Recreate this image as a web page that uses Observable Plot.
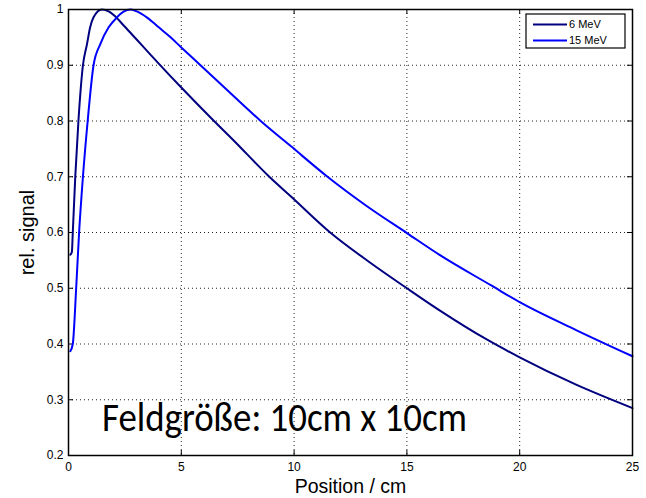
<!DOCTYPE html>
<html>
<head>
<meta charset="utf-8">
<script src="https://cdn.jsdelivr.net/npm/d3@7"></script>
<script src="https://cdn.jsdelivr.net/npm/@observablehq/plot@0.6"></script>
<style>
  html, body { margin: 0; padding: 0; background: #fff; }
</style>
</head>
<body>
<div id="chart"></div>
<script>
// ---- data ----
const seriesNames = ["6 MeV", "15 MeV"];
const seriesColors = ["#000080", "#0000ff"];

const position6 = [0.08, 0.15, 0.19, 0.30, 0.44, 0.64, 0.82, 0.96, 1.11, 1.48, 1.8, 2.0, 2.5, 3.0, 3.5, 4.0, 5.0, 6.45, 7.3, 8.9, 9.85, 11.6, 13.3, 15.0, 16.5, 18.5, 20.0, 22.5, 25.0];
const signal6   = [0.560, 0.565, 0.600, 0.700, 0.800, 0.900, 0.938, 0.968, 0.986, 1.000, 0.996, 0.990, 0.969, 0.947, 0.925, 0.903, 0.860, 0.800, 0.766, 0.700, 0.665, 0.600, 0.548, 0.500, 0.459, 0.409, 0.376, 0.327, 0.285];

const position15 = [0.08, 0.19, 0.34, 0.47, 0.64, 0.85, 1.11, 1.41, 1.78, 2.15, 2.44, 2.74, 3.0, 3.5, 4.0, 4.5, 5.0, 5.85, 7.6, 8.52, 9.85, 11.48, 13.2, 15.0, 16.52, 18.74, 20.0, 22.5, 25.0];
const signal15   = [0.387, 0.400, 0.500, 0.600, 0.700, 0.800, 0.900, 0.938, 0.968, 0.986, 0.996, 1.000, 0.997, 0.985, 0.968, 0.951, 0.932, 0.900, 0.834, 0.800, 0.755, 0.700, 0.648, 0.599, 0.558, 0.505, 0.475, 0.425, 0.378];

const xTicks = [0, 5, 10, 15, 20, 25];
const xTickLabels = ["0", "5", "10", "15", "20", "25"];
const yTicks = [0.2, 0.3, 0.4, 0.5, 0.6, 0.7, 0.8, 0.9, 1];
const yTickLabels = ["0.2", "0.3", "0.4", "0.5", "0.6", "0.7", "0.8", "0.9", "1"];

const xLabel = "Position / cm";
const yLabel = "rel. signal";
const annotation = ["Feldgröße: 10cm x 10cm"];

// ---- build table ----
const rows = [];
position6.forEach((p, i) => rows.push({series: seriesNames[0], x: p, y: signal6[i]}));
position15.forEach((p, i) => rows.push({series: seriesNames[1], x: p, y: signal15[i]}));

const W = 646, H = 498;
const mL = 68, mR = 14, mT = 9, mB = 43;
const innerW = W - mL - mR, innerH = H - mT - mB;
const tickLen = 5;

const gridX = xTicks.slice(1, -1);
const gridY = yTicks.slice(1, -1);

const chart = Plot.plot({
  width: W,
  height: H,
  marginLeft: mL,
  marginRight: mR,
  marginTop: mT,
  marginBottom: mB,
  style: {fontFamily: "'Liberation Sans', Arial, sans-serif", fontSize: "12px", background: "white", color: "black"},
  x: {domain: [0, 25]},
  y: {domain: [0.2, 1]},
  color: {domain: seriesNames, range: seriesColors},
  marks: [
    // dotted grid
    Plot.ruleX(gridX, {x: d => d, stroke: "black", strokeWidth: 1, strokeDasharray: "1,3", strokeOpacity: 0.85}),
    Plot.ruleY(gridY, {y: d => d, stroke: "black", strokeWidth: 1, strokeDasharray: "1,3", strokeOpacity: 0.85}),
    // inward tick marks on all sides
    Plot.tickX(xTicks, {x: d => d, insetTop: innerH - tickLen, stroke: "black", strokeWidth: 1}),
    Plot.tickX(xTicks, {x: d => d, insetBottom: innerH - tickLen, stroke: "black", strokeWidth: 1}),
    Plot.tickY(yTicks, {y: d => d, insetRight: innerW - tickLen, stroke: "black", strokeWidth: 1}),
    Plot.tickY(yTicks, {y: d => d, insetLeft: innerW - tickLen, stroke: "black", strokeWidth: 1}),
    // curves
    Plot.line(rows, {x: "x", y: "y", z: "series", stroke: "series", strokeWidth: 2, curve: "monotone-x"}),
    // frame
    Plot.frame({stroke: "black", strokeWidth: 1.5}),
    // axes
    Plot.axisX(xTicks, {tickSize: 0, tickPadding: 7, label: null, fontSize: 12, tickFormat: d => xTickLabels[xTicks.indexOf(d)]}),
    Plot.axisY(yTicks, {tickSize: 0, tickPadding: 5, label: null, fontSize: 12, tickFormat: d => yTickLabels[yTicks.indexOf(d)]}),
    // axis labels
    Plot.text([xLabel], {text: d => d, frameAnchor: "bottom", dy: 31, textAnchor: "middle", lineAnchor: "middle", fontSize: 19.5}),
    Plot.text([yLabel], {text: d => d, frameAnchor: "left", dx: -41, rotate: -90, textAnchor: "middle", lineAnchor: "middle", fontSize: 20}),
    // annotation
    Plot.text(annotation, {text: d => d, frameAnchor: "bottom-left", dx: 33.5, dy: -25, textAnchor: "start", lineAnchor: "bottom", fontSize: 40, fontWeight: 400, fontFamily: "Carlito, Lato, 'Open Sans', sans-serif", className: "annot"})
  ]
});

// fit annotation width like the reference
d3.select(chart).selectAll(".annot text").attr("textLength", 365).attr("lengthAdjust", "spacingAndGlyphs");

// legend box (top-right inside the plot)
const svg = d3.select(chart);
const lg = svg.append("g")
  .attr("font-family", "'Liberation Sans', Arial, sans-serif")
  .attr("font-size", 11)
  .attr("text-anchor", "start");
const lx = 526, ly = 14, lw = 99, lh = 34;
lg.append("rect").attr("x", lx).attr("y", ly).attr("width", lw).attr("height", lh)
  .attr("fill", "white").attr("stroke", "black").attr("stroke-width", 1.2);
seriesNames.forEach((name, i) => {
  const yy = ly + 10.5 + i * 16;
  lg.append("line").attr("x1", lx + 7).attr("x2", lx + 41).attr("y1", yy).attr("y2", yy)
    .attr("stroke", seriesColors[i]).attr("stroke-width", 2);
  lg.append("text").attr("x", lx + 43).attr("y", yy).attr("dy", "0.35em").attr("text-anchor", "start").text(name);
});

document.getElementById("chart").appendChild(chart);
</script>
</body>
</html>
